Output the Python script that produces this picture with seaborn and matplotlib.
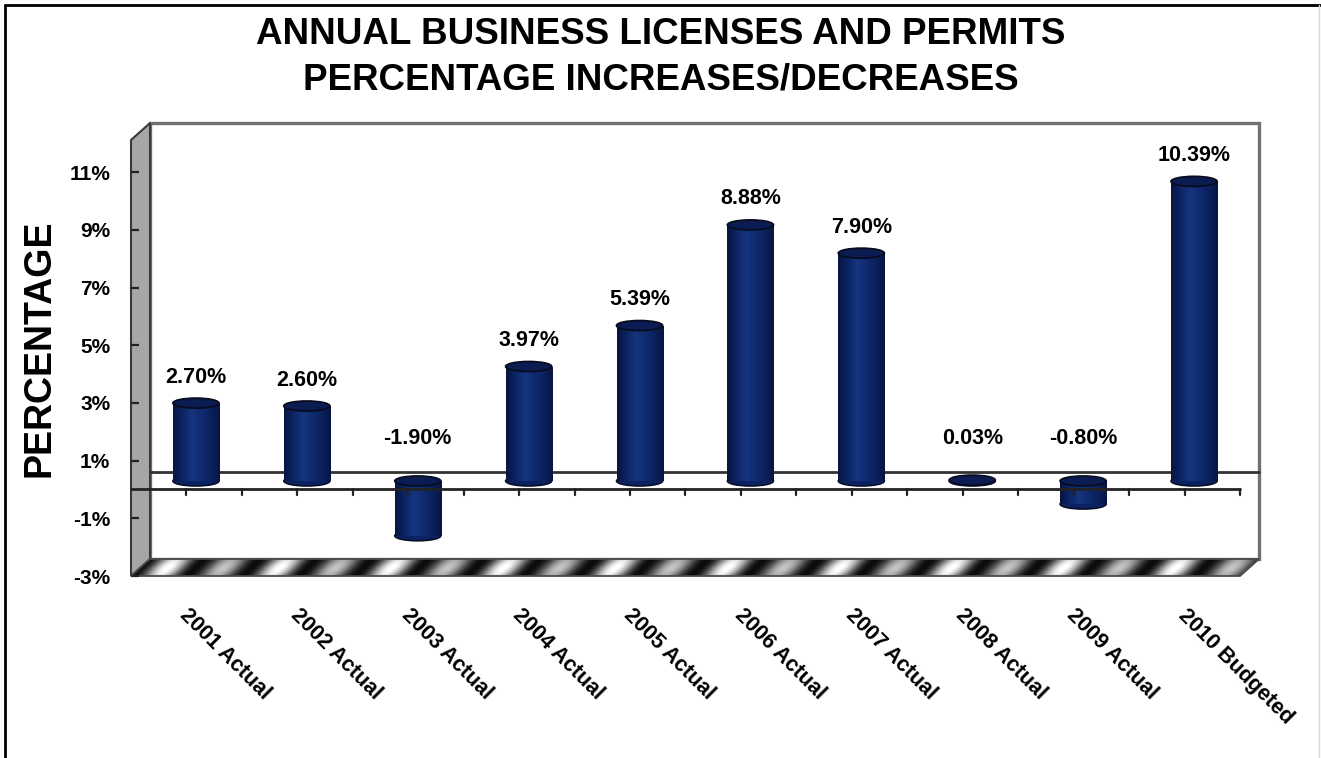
import numpy as np
import matplotlib
matplotlib.use("Agg")
import matplotlib.pyplot as plt
import matplotlib.transforms as mtransforms
from matplotlib.patches import Rectangle, Polygon, Ellipse
from matplotlib.colors import LinearSegmentedColormap
import seaborn as sns

# ---- data -------------------------------------------------------------
categories = ["2001 Actual", "2002 Actual", "2003 Actual", "2004 Actual",
              "2005 Actual", "2006 Actual", "2007 Actual", "2008 Actual",
              "2009 Actual", "2010 Budgeted"]
pct_change = [2.70, 2.60, -1.90, 3.97, 5.39, 8.88, 7.90, 0.03, -0.80, 10.39]
y_ticks = [-3, -1, 1, 3, 5, 7, 9, 11]
title_lines = ["ANNUAL BUSINESS LICENSES AND PERMITS",
               "PERCENTAGE INCREASES/DECREASES"]
y_title = "PERCENTAGE"

# ---- style ------------------------------------------------------------
sns.set_style("white")
plt.rcParams["font.family"] = ["Liberation Sans", "DejaVu Sans"]
plt.rcParams["font.weight"] = "bold"
for key in ("text.color", "axes.labelcolor", "xtick.color", "ytick.color"):
    plt.rcParams[key] = "black"

W, H, DPI = 1321, 758, 100
fig = plt.figure(figsize=(W / DPI, H / DPI), dpi=DPI)

# front frame of the 3-D box (pixels) and depth offset
X0, X1, YT, YB = 131, 1240, 140, 576
DX, DY = 19, 17
YMIN, YMAX = -3, 12.12

# background layer in pixel coordinates: walls, floor, border
bg = fig.add_axes([0, 0, 1, 1], zorder=0)
bg.set_xlim(0, W)
bg.set_ylim(H, 0)
bg.axis("off")

bg.add_patch(Rectangle((X0 + DX, YT - DY), X1 - X0, YB - YT,
                       facecolor="white", edgecolor="#707070", lw=2.4, zorder=1))
bg.add_patch(Polygon([(X0, YT), (X0 + DX, YT - DY), (X0 + DX, YB - DY), (X0, YB)],
                     closed=True, facecolor="#a6a6a6", edgecolor="#3a3a3a",
                     lw=1.5, zorder=2))

# striped floor
floor = Polygon([(X0, YB), (X0 + DX, YB - DY), (X1 + DX, YB - DY), (X1, YB)],
                closed=True, facecolor="none", edgecolor="#4a4a4a", lw=1.3, zorder=4)
xs = np.arange(X0, X1 + DX + 1, 0.5)
ys = np.arange(YB - DY, YB + 1, 0.5)
gx, gy = np.meshgrid(xs, ys)
u = gx + (gy - YB) * 1.0 - X0
t = u / 56.0
amp = np.where(np.floor(t) % 2 == 0, 0.97, 0.72)
shade = 0.05 + amp * np.abs(np.sin(np.pi * t)) ** 2.2
shade *= 0.85 + 0.15 * np.sin(np.pi * (gy - (YB - DY)) / DY)
img = bg.imshow(shade, cmap="gray", vmin=0, vmax=1, origin="upper",
                extent=(X0, X1 + DX + 1, YB + 1, YB - DY), aspect="auto",
                interpolation="bilinear", zorder=3)
bg.add_patch(floor)
img.set_clip_path(floor)

# outer border
bg.plot([5, 5], [5, H], color="black", lw=2, zorder=5)
bg.plot([5, W], [5, 5], color="black", lw=2, zorder=5)
bg.plot([W - 2, W - 2], [5, H], color="#d8d8d8", lw=1, zorder=5)
bg.set_xlim(0, W)
bg.set_ylim(H, 0)

# ---- data axes (front plane) -----------------------------------------
ax = fig.add_axes([X0 / W, 1 - YB / H, (X1 - X0) / W, (YB - YT) / H], zorder=1)
ax.patch.set_visible(False)

navy = "#0c2466"
sns.barplot(x=categories, y=pct_change, ax=ax, color=navy, saturation=1,
            width=0.415, linewidth=0, errorbar=None, zorder=3)

# bars stand half way into the box
bar_trans = mtransforms.offset_copy(ax.transData, fig=fig, x=DX / 2, y=DY / 2,
                                    units="dots")
back_trans = mtransforms.offset_copy(ax.transData, fig=fig, x=DX, y=DY,
                                     units="dots")

ppu = (YB - YT) / (YMAX - YMIN)
cap_h = 10.0 / ppu

cyl = LinearSegmentedColormap.from_list(
    "cyl", ["#071540", "#0c2464", "#15357f", "#102b70", "#0b2160", "#071540"])
grad = np.linspace(0, 1, 128)[None, :]

for patch, val in zip(ax.patches, pct_change):
    patch.set_transform(bar_trans)
    patch.set_zorder(3)
    x = patch.get_x()
    w = patch.get_width()
    y0 = patch.get_y()
    h = patch.get_height()
    top, bot = max(y0, y0 + h), min(y0, y0 + h)
    cx = x + w / 2
    im = ax.imshow(grad, cmap=cyl, extent=(x, x + w, bot, top), aspect="auto",
                   transform=bar_trans, interpolation="bilinear", zorder=3.2)
    im.set_clip_path(patch)
    ax.add_patch(Ellipse((cx, bot), w, cap_h, transform=bar_trans,
                         facecolor="#0b2262", edgecolor="#0a0f25", lw=1.2,
                         zorder=2.5))
    ax.add_patch(Ellipse((cx, top), w, cap_h, transform=bar_trans,
                         facecolor="#0a1c52", edgecolor="#080c1e", lw=1.3,
                         zorder=3.5))
    gap = 26 if val >= 1 else 42
    ax.annotate(f"{val:.2f}%", xy=(cx, max(val, 0)),
                xytext=(DX / 2, DY / 2 + gap), textcoords="offset pixels",
                ha="center", va="center", fontsize=15.5, fontweight="bold",
                color="black", zorder=6)

# zero planes: back line hidden by bars, front line with ticks on top
ax.plot([-0.5, 9.5], [0, 0], color="#333333", lw=2, transform=back_trans,
        clip_on=False, zorder=1)
ax.plot([-0.5, 9.5], [0, 0], color="#222222", lw=2, clip_on=False, zorder=5)
for p in np.arange(0, 10, 0.5):
    ax.plot([p, p], [0, -5.5 / ppu], color="#222222", lw=1.6,
            clip_on=False, zorder=5)

ax.set_xlim(-0.5, 9.5)
ax.set_ylim(YMIN, YMAX)
for s in ax.spines.values():
    s.set_visible(False)

ax.set_yticks(y_ticks)
ax.set_yticklabels([f"{v}%" for v in y_ticks], fontsize=15, fontweight="bold")
ax.tick_params(axis="y", direction="in", length=6, width=1.6, color="#222222",
               pad=15, left=True)
ax.set_xticks(range(len(categories)))
ax.set_xticklabels(categories, rotation=-45, ha="left", va="top",
                   rotation_mode="anchor", fontsize=15.5, fontweight="bold")
ax.tick_params(axis="x", length=0, pad=21)
label_shift = mtransforms.ScaledTranslation(4 / DPI, 0, fig.dpi_scale_trans)
for lbl in ax.get_xticklabels():
    lbl.set_transform(lbl.get_transform() + label_shift)
ax.set_xlabel("")
ax.set_ylabel("")

fig.text(0.5, 1 - 57 / H, "\n".join(title_lines), ha="center", va="center",
         fontsize=26.5, fontweight="bold", linespacing=1.38)
fig.text(40 / W, 1 - 348 / H, y_title, rotation=90, ha="center", va="center",
         fontsize=27, fontweight="bold")

fig.savefig("out.png", dpi=DPI)
